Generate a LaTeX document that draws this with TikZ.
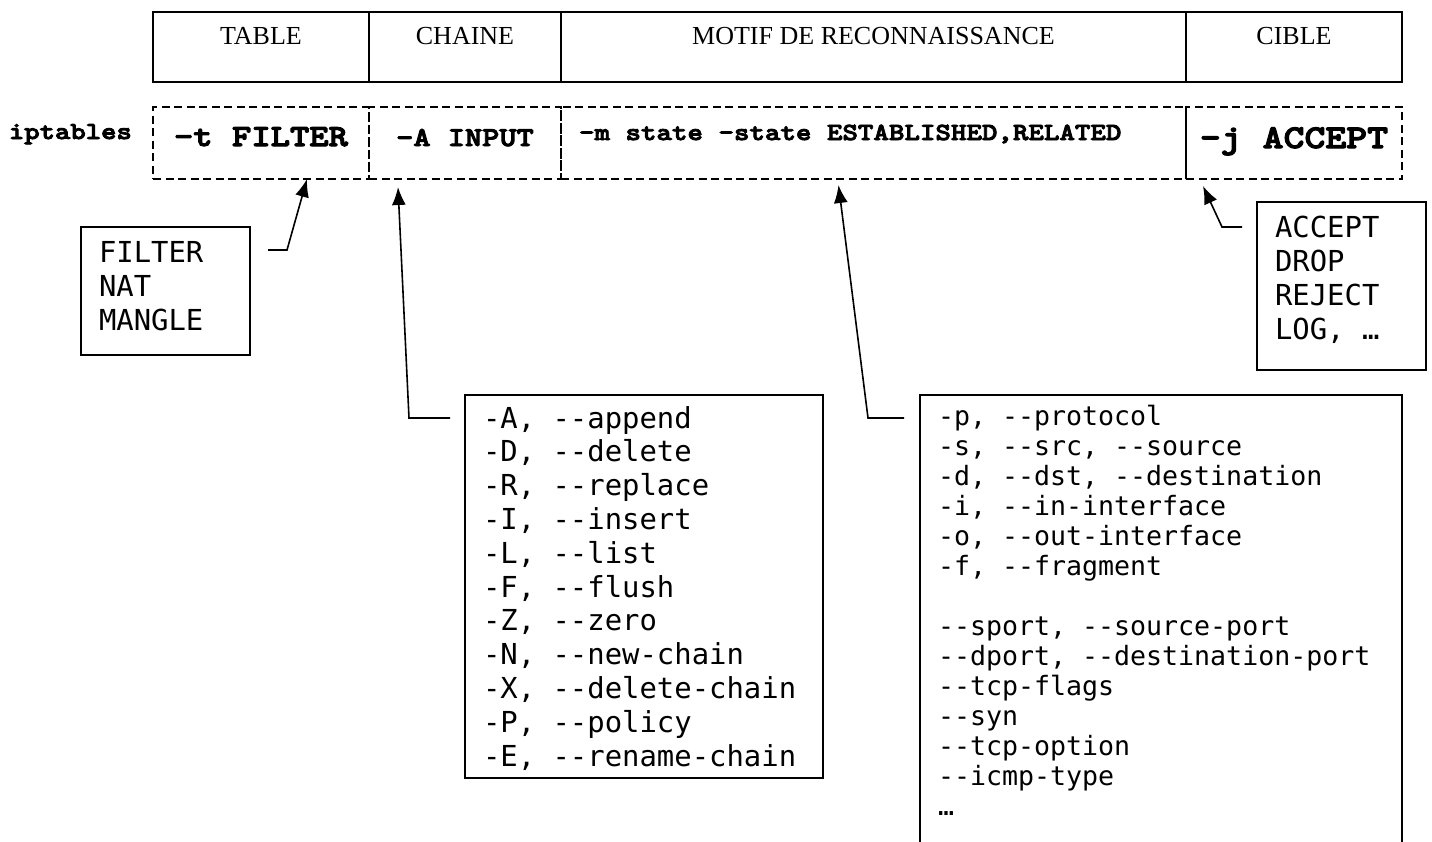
\documentclass[tikz,border=0pt]{standalone}
\usepackage{fontspec}
\setmainfont{Liberation Serif}
\newfontfamily\listfont{DejaVu Sans Mono}[Ligatures=TeXOff]
\newfontfamily\cmdfont{lmmonolt10-bold}[Extension=.otf, FakeStretch=1.2, FakeBold=3.5, Ligatures=TeXOff]
\usetikzlibrary{positioning,arrows.meta}

\tikzset{
    head/.style={draw, line width=1.8pt, inner sep=0pt, outer sep=0pt,
        text height=32pt, text depth=38pt, font=\fontsize{26}{30}\selectfont},
    cmd/.style={draw, dash pattern=on 8pt off 4.5pt, line width=1.3pt,
        inner sep=0pt, outer sep=0pt, text height=38pt, text depth=34pt},
    % espaces pleine chasse dans les blocs alignes
    fixspace/.style={execute at begin node={\spaceskip=0pt\xspaceskip=0pt}},
    listbox/.style={draw, line width=1.8pt, inner xsep=18pt, inner ysep=0pt,
        outer sep=0pt, align=left, anchor=north west, fixspace}
}

\begin{document}
\begin{tikzpicture}[
                            x=1pt, y=-1pt,
                            >={Latex[length=18pt,width=14pt]},
                            line width=1.6pt
                            ]
    \useasboundingbox (0,0) rectangle (1432,841);
    \clip (0,0) rectangle (1432,841);

    % en-tetes
    \node [head, minimum width=216pt, anchor=north west] (tabhead) at (153,12) {TABLE};
    \node [head, minimum width=192pt, right=0pt of tabhead] (chainhead) {CHAINE};
    \node [head, minimum width=625pt, right=0pt of chainhead] (motifhead) {MOTIF DE RECONNAISSANCE};
    \node [head, minimum width=216pt, right=0pt of motifhead] (ciblehead) {CIBLE};

    % ligne de commande
    \node [cmd, minimum width=216pt, text height=39pt, text depth=33pt, below=25pt of tabhead,
        font=\cmdfont\fontsize{30.7}{32}\selectfont] (tabcmd) {-t FILTER};
    \node [cmd, minimum width=192pt, text height=39pt, text depth=33pt, below=25pt of chainhead,
        font=\cmdfont\fontsize{27.3}{30}\selectfont] (chaincmd) {-A INPUT};
    \node [cmd, inner xsep=18pt, text width=589pt, align=left, fixspace, text height=33pt, text depth=39pt,
        below=25pt of motifhead, font=\cmdfont\fontsize{24.6}{30}\selectfont] (motifcmd)
        {-m state —state ESTABLISHED,RELATED};
    \node [cmd, minimum width=216pt, text height=41pt, text depth=31pt, below=25pt of ciblehead,
        font=\cmdfont\fontsize{33.2}{34}\selectfont] (ciblecmd) {-j ACCEPT};
    \node [left=17pt of tabcmd, anchor=base east, yshift=4pt,
        font=\cmdfont\fontsize{24.4}{30}\selectfont] (iptables) {iptables};

    % valeurs possibles
    \node [listbox, text width=133pt, text height=35pt, text depth=93pt,
        font=\listfont\fontsize{28.9}{34}\selectfont] (tablist) at (81,227)
        {FILTER\\NAT\\MANGLE};
    \node [listbox, text width=133pt, text height=35pt, text depth=133pt,
        font=\listfont\fontsize{28.9}{34}\selectfont] (ciblelist) at (1257,202)
        {ACCEPT\\DROP\\REJECT\\LOG, …};
    \node [listbox, text width=322pt, text height=33pt, text depth=350pt,
        font=\listfont\fontsize{28.9}{33.8}\selectfont] (chainlist) at (465,395)
        {-A, --append\\-D, --delete\\-R, --replace\\-I, --insert\\-L, --list\\-F, --flush\\
         -Z, --zero\\-N, --new-chain\\-X, --delete-chain\\-P, --policy\\-E, --rename-chain};
    \node [listbox, text width=446pt, text height=30pt, text depth=480pt,
        font=\listfont\fontsize{26.6}{30}\selectfont] (motiflist) at (920,395)
        {-p, --protocol\\-s, --src, --source\\-d, --dst, --destination\\-i, --in-interface\\
         -o, --out-interface\\-f, --fragment\\[30pt]
         --sport, --source-port\\--dport, --destination-port\\--tcp-flags\\--syn\\
         --tcp-option\\--icmp-type\\…};

    \draw[->] ([shift={(18,23)}]tablist.north east) -- ++(19,0) -- ([xshift=46pt]tabcmd.south);
    \draw[->] ([shift={(-15,23)}]chainlist.north west) -- ++(-41,0) -- ([shift={(-67,8)}]chaincmd.south);
    \draw[->] ([shift={(-16,23)}]motiflist.north west) -- ++(-36,0) -- ([shift={(-35,6)}]motifcmd.south);
    \draw[->] ([shift={(-15,25)}]ciblelist.north west) -- ++(-20,0) -- ([shift={(-91,7)}]ciblecmd.south);
\end{tikzpicture}
\end{document}
